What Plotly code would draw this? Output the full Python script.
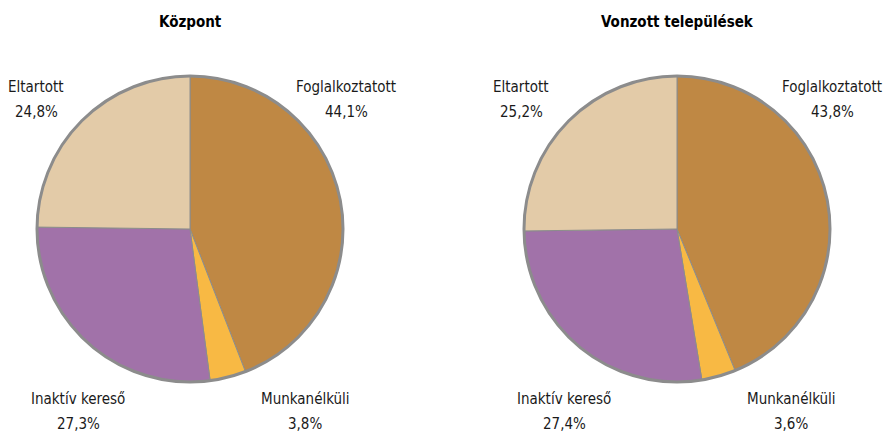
import plotly.graph_objects as go

W, H = 883, 433

categories = ["Foglalkoztatott", "Munkanélküli", "Inaktív kereső", "Eltartott"]
kozpont = [44.1, 3.8, 27.3, 24.8]
vonzott = [43.8, 3.6, 27.4, 25.2]
titles = ["Központ", "Vonzott települések"]
colors = ["#BF8844", "#F8B944", "#A172A9", "#E3CBA8"]

FONT = "Liberation Sans Narrow, DejaVu Sans Condensed, Arial Narrow, sans-serif"

# pie geometry in pixels: (center x, center y, radius)
pies = [(190, 229, 153), (677, 229, 153)]
# label anchor centres (x, y of name line) per pie, per category
label_pos = [
    [(346, 87), (305, 399), (78, 399), (36, 87)],
    [(832, 87), (791, 399), (564, 399), (521, 87)],
]


def px(x):
    return x / W


def py(y):
    return 1 - y / H


fig = go.Figure()
annotations = []
shapes = []
for i, (vals, title) in enumerate(zip([kozpont, vonzott], titles)):
    cx, cy, r = pies[i]
    fig.add_trace(go.Pie(
        labels=categories,
        values=vals,
        sort=False,
        direction="clockwise",
        rotation=0,
        textinfo="none",
        hoverinfo="label+percent",
        marker=dict(colors=colors, line=dict(color="#8C8C8C", width=1)),
        domain=dict(x=[px(cx - r), px(cx + r)], y=[py(cy + r), py(cy - r)]),
        showlegend=False,
    ))
    # outer rim
    shapes.append(dict(
        type="circle", xref="paper", yref="paper", layer="above",
        x0=px(cx - r), x1=px(cx + r), y0=py(cy + r), y1=py(cy - r),
        line=dict(color="#8C8C8C", width=3),
    ))
    annotations.append(dict(
        text="<b>" + title + "</b>", x=px(cx), y=py(22), xref="paper", yref="paper",
        showarrow=False, xanchor="center", yanchor="middle",
        font=dict(family=FONT, size=15, color="#000000"),
    ))
    for name, v, (lx, ly) in zip(categories, vals, label_pos[i]):
        pct = f"{v:.1f}".replace(".", ",") + "%"
        for txt, yy in ((name, ly), (pct, ly + 25)):
            annotations.append(dict(
                text=txt, x=px(lx), y=py(yy), xref="paper", yref="paper",
                showarrow=False, xanchor="center", yanchor="middle",
                font=dict(family=FONT, size=15, color="#1A1A1A"),
            ))

fig.update_layout(
    width=W, height=H,
    margin=dict(l=0, r=0, t=0, b=0),
    paper_bgcolor="white", plot_bgcolor="white",
    annotations=annotations, shapes=shapes,
)

fig.write_html("out.html")
